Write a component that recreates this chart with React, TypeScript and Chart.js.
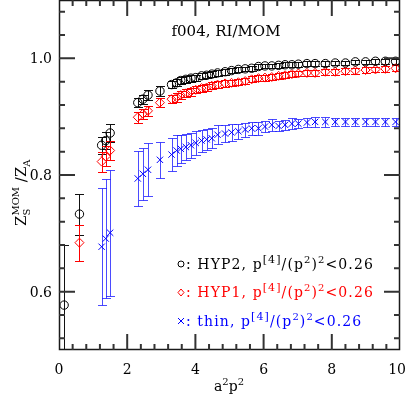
import React, { useEffect, useRef } from 'react';
import { Chart, registerables } from 'chart.js';

Chart.register(...registerables);

// ---- data ----
const xValues = [0.15, 0.6, 1.25, 1.37, 1.5, 2.31, 2.46, 2.61, 2.96, 3.30, 3.45, 3.57, 3.72, 3.87, 4.01, 4.18, 4.33, 4.48, 4.65, 4.87, 5.06, 5.26, 5.46, 5.65, 5.85, 6.04, 6.24, 6.44, 6.63, 6.83, 7.02, 7.27, 7.51, 7.81, 8.10, 8.40, 8.69, 8.99, 9.28, 9.57, 9.87];

const hyp2Values = [0.577, 0.733, 0.851, 0.859, 0.872, 0.924, 0.930, 0.937, 0.944, 0.955, 0.958, 0.962, 0.964, 0.966, 0.967, 0.970, 0.971, 0.973, 0.975, 0.977, 0.979, 0.981, 0.982, 0.983, 0.986, 0.987, 0.987, 0.988, 0.989, 0.989, 0.990, 0.991, 0.991, 0.991, 0.992, 0.992, 0.994, 0.994, 0.995, 0.995, 0.995];
const hyp2Errors = [0.103, 0.035, 0.015, 0.015, 0.015, 0.008, 0.008, 0.008, 0.008, 0.006, 0.006, 0.006, 0.006, 0.006, 0.005, 0.005, 0.005, 0.005, 0.005, 0.005, 0.004, 0.004, 0.004, 0.004, 0.004, 0.004, 0.004, 0.004, 0.004, 0.004, 0.004, 0.004, 0.004, 0.004, 0.004, 0.004, 0.004, 0.004, 0.004, 0.004, 0.004];

const hyp1Values = [null, 0.684, 0.823, 0.832, 0.842, 0.899, 0.905, 0.910, 0.924, 0.930, 0.933, 0.937, 0.940, 0.943, 0.946, 0.949, 0.950, 0.953, 0.955, 0.957, 0.958, 0.959, 0.961, 0.964, 0.966, 0.967, 0.968, 0.970, 0.971, 0.973, 0.974, 0.975, 0.975, 0.977, 0.977, 0.978, 0.979, 0.980, 0.981, 0.982, 0.983];
const hyp1Errors = [null, 0.031, 0.017, 0.017, 0.017, 0.009, 0.009, 0.009, 0.008, 0.007, 0.007, 0.007, 0.007, 0.007, 0.006, 0.006, 0.006, 0.006, 0.006, 0.006, 0.005, 0.005, 0.005, 0.005, 0.005, 0.005, 0.005, 0.005, 0.005, 0.005, 0.005, 0.005, 0.005, 0.005, 0.005, 0.005, 0.005, 0.005, 0.005, 0.005, 0.005];

const thinValues = [null, null, 0.677, 0.691, 0.701, 0.794, 0.802, 0.809, 0.826, 0.835, 0.842, 0.845, 0.848, 0.851, 0.855, 0.859, 0.861, 0.863, 0.869, 0.871, 0.873, 0.875, 0.878, 0.880, 0.880, 0.883, 0.886, 0.884, 0.886, 0.888, 0.888, 0.890, 0.891, 0.891, 0.891, 0.891, 0.891, 0.891, 0.891, 0.891, 0.891];
const thinErrors = [null, null, 0.100, 0.102, 0.108, 0.047, 0.045, 0.045, 0.031, 0.028, 0.026, 0.024, 0.022, 0.021, 0.020, 0.019, 0.018, 0.017, 0.016, 0.015, 0.014, 0.013, 0.012, 0.011, 0.011, 0.010, 0.010, 0.009, 0.009, 0.009, 0.008, 0.008, 0.008, 0.008, 0.007, 0.007, 0.007, 0.007, 0.007, 0.007, 0.007];

const X_MIN = 0;
const X_MAX = 10;
const Y_MIN = 0.5;
const Y_MAX = 1.1;
const xTickValues = [0, 2, 4, 6, 8, 10];
const xTickLabels = ['0', '2', '4', '6', '8', '10'];
const xMajorInner = [2, 4, 6, 8];
const yTickValues = [0.6, 0.8, 1.0];
const yTickLabels = ['0.6', '0.8', '1.0'];
const xMinorTicks = [0.4, 0.8, 1.2, 1.6, 2.4, 2.8, 3.2, 3.6, 4.4, 4.8, 5.2, 5.6, 6.4, 6.8, 7.2, 7.6, 8.4, 8.8, 9.2, 9.6];
const yMinorTicks = [0.52, 0.56, 0.64, 0.68, 0.72, 0.76, 0.84, 0.88, 0.92, 0.96, 1.04, 1.08];

const titleText = 'f004, RI/MOM';
const legendLabels = ['HYP2', 'HYP1', 'thin'];
const legendCut = '0.26';

const FONT = '"DejaVu Serif", "Liberation Serif", serif';

const series = [
  { label: legendLabels[0], values: hyp2Values, errors: hyp2Errors, color: '#000000', barColor: '#111111', style: 'circle', radius: 4.2 },
  { label: legendLabels[1], values: hyp1Values, errors: hyp1Errors, color: '#ff0000', barColor: '#ff0000', style: 'rectRot', radius: 4.5 },
  { label: legendLabels[2], values: thinValues, errors: thinErrors, color: '#0000ff', barColor: 'rgba(30,30,255,0.8)', style: 'crossRot', radius: 4.5 },
];

type Part = { t: string; size: number; dy: number; stack?: boolean };

function drawRich(ctx: CanvasRenderingContext2D, x: number, y: number, parts: Part[]) {
  let cx = x;
  let stackW = 0;
  let stackX = 0;
  for (const p of parts) {
    ctx.font = `${p.size}px ${FONT}`;
    const w = ctx.measureText(p.t).width;
    if (p.stack) {
      if (stackW === 0) stackX = cx;
      ctx.fillText(p.t, stackX, y + p.dy);
      stackW = Math.max(stackW, w);
      cx = stackX + stackW;
    } else {
      stackW = 0;
      ctx.fillText(p.t, cx, y + p.dy);
      cx += w;
    }
  }
  return cx - x;
}

function measureRich(ctx: CanvasRenderingContext2D, parts: Part[]) {
  let w = 0;
  for (const p of parts) {
    ctx.font = `${p.size}px ${FONT}`;
    w += ctx.measureText(p.t).width;
  }
  return w;
}

const errorBarPlugin = {
  id: 'errorBars',
  beforeDatasetsDraw(chart: any) {
    const { ctx, chartArea } = chart;
    const xs = chart.scales.x;
    const ys = chart.scales.y;
    ctx.save();
    ctx.beginPath();
    ctx.rect(chartArea.left, chartArea.top, chartArea.right - chartArea.left, chartArea.bottom - chartArea.top);
    ctx.clip();
    ctx.lineWidth = 1;
    series.forEach((s) => {
      ctx.strokeStyle = s.barColor;
      xValues.forEach((xv, i) => {
        const v = s.values[i];
        const e = s.errors[i];
        if (v == null || e == null) return;
        const px = Math.round(xs.getPixelForValue(xv)) + 0.5;
        const top = Math.round(ys.getPixelForValue(v + e)) + 0.5;
        const bot = Math.round(ys.getPixelForValue(v - e)) + 0.5;
        ctx.beginPath();
        ctx.moveTo(px, top);
        ctx.lineTo(px, bot);
        ctx.moveTo(px - 4.5, top);
        ctx.lineTo(px + 4.5, top);
        ctx.moveTo(px - 4.5, bot);
        ctx.lineTo(px + 4.5, bot);
        ctx.stroke();
      });
    });
    ctx.restore();
  },
};

const tickPlugin = {
  id: 'innerTicks',
  afterDraw(chart: any) {
    const ctx: CanvasRenderingContext2D = chart.ctx;
    const area = chart.chartArea;
    const xs = chart.scales.x;
    const ys = chart.scales.y;
    ctx.save();
    ctx.strokeStyle = '#333333';
    ctx.lineWidth = 2;
    ctx.beginPath();
    xMinorTicks.forEach((v) => {
      const px = xs.getPixelForValue(v);
      ctx.moveTo(px, area.bottom);
      ctx.lineTo(px, area.bottom - 6);
      ctx.moveTo(px, area.top);
      ctx.lineTo(px, area.top + 6);
    });
    xMajorInner.forEach((v) => {
      const px = xs.getPixelForValue(v);
      ctx.moveTo(px, area.bottom);
      ctx.lineTo(px, area.bottom - 16);
      ctx.moveTo(px, area.top);
      ctx.lineTo(px, area.top + 16);
    });
    yMinorTicks.forEach((v) => {
      const py = ys.getPixelForValue(v);
      ctx.moveTo(area.left, py);
      ctx.lineTo(area.left + 6, py);
      ctx.moveTo(area.right, py);
      ctx.lineTo(area.right - 6, py);
    });
    yTickValues.forEach((v) => {
      const py = ys.getPixelForValue(v);
      ctx.moveTo(area.left, py);
      ctx.lineTo(area.left + 16, py);
      ctx.moveTo(area.right, py);
      ctx.lineTo(area.right - 16, py);
    });
    ctx.stroke();
    ctx.restore();
  },
};

const framePlugin = {
  id: 'frameAndText',
  afterDatasetsDraw(chart: any) {
    const ctx: CanvasRenderingContext2D = chart.ctx;
    const area = chart.chartArea;
    const xs = chart.scales.x;
    const ys = chart.scales.y;
    ctx.save();
    ctx.strokeStyle = '#1a1a1a';
    ctx.lineWidth = 1.5;
    ctx.beginPath();
    ctx.rect(area.left + 0.5, area.top + 0.5, area.right - area.left - 1, area.bottom - area.top - 1);
    ctx.stroke();

    ctx.fillStyle = '#000';
    ctx.textBaseline = 'alphabetic';

    // tick labels
    ctx.font = `14px ${FONT}`;
    ctx.textAlign = 'center';
    xTickValues.forEach((v, i) => {
      let px = xs.getPixelForValue(v);
      const w = ctx.measureText(xTickLabels[i]).width;
      if (px + w / 2 > chart.width - 1) px = chart.width - 1 - w / 2;
      ctx.fillText(xTickLabels[i], px, 374);
    });
    ctx.textAlign = 'right';
    yTickValues.forEach((v, i) => {
      ctx.fillText(yTickLabels[i], 52, Math.round(ys.getPixelForValue(v)) + 5);
    });
    ctx.textAlign = 'left';

    // title
    ctx.font = `15px ${FONT}`;
    const tw = ctx.measureText(titleText).width;
    ctx.fillText(titleText, 226 - tw / 2, 36);

    // x axis title a^2 p^2
    const xParts: Part[] = [
      { t: 'a', size: 14, dy: 0 },
      { t: '2', size: 10, dy: -6 },
      { t: 'p', size: 14, dy: 0 },
      { t: '2', size: 10, dy: -6 },
    ];
    const xw = measureRich(ctx, xParts);
    drawRich(ctx, 229 - xw / 2, 391, xParts);

    // y axis title Z_S^MOM / Z_A (rotated)
    ctx.save();
    ctx.translate(26, 226);
    ctx.rotate(-Math.PI / 2);
    drawRich(ctx, 0, 0, [
      { t: 'Z', size: 15, dy: 0 },
      { t: 'MOM', size: 10, dy: -7, stack: true },
      { t: 'S', size: 10, dy: 4, stack: true },
      { t: ' /', size: 15, dy: 0 },
      { t: 'Z', size: 15, dy: 0 },
      { t: 'A', size: 10, dy: 4 },
    ]);
    ctx.restore();

    // legend
    const baselines = [268.5, 297, 325.5];
    series.forEach((s, i) => {
      const by = baselines[i];
      const cy = by - 4.5;
      const cx = 181;
      ctx.strokeStyle = s.color;
      ctx.fillStyle = s.color;
      ctx.lineWidth = 1;
      ctx.beginPath();
      if (s.style === 'circle') {
        ctx.arc(cx, cy, 3, 0, Math.PI * 2);
      } else if (s.style === 'rectRot') {
        ctx.moveTo(cx, cy - 3.5);
        ctx.lineTo(cx + 3, cy);
        ctx.lineTo(cx, cy + 3.5);
        ctx.lineTo(cx - 3, cy);
        ctx.closePath();
      } else {
        ctx.moveTo(cx - 3, cy - 3);
        ctx.lineTo(cx + 3, cy + 3);
        ctx.moveTo(cx + 3, cy - 3);
        ctx.lineTo(cx - 3, cy + 3);
      }
      ctx.stroke();
      (ctx as any).letterSpacing = '1.1px';
      drawRich(ctx, 186, by, [
        { t: ': ' + s.label + ', p', size: 14, dy: 0 },
        { t: '[4]', size: 11, dy: -6 },
        { t: '/(p', size: 14, dy: 0 },
        { t: '2', size: 10, dy: -6 },
        { t: ')', size: 14, dy: 0 },
        { t: '2', size: 10, dy: -6 },
        { t: '<' + legendCut, size: 14, dy: 0 },
      ]);
      (ctx as any).letterSpacing = '0px';
    });
    ctx.restore();
  },
};

export default function App() {
  const ref = useRef<HTMLCanvasElement>(null);
  useEffect(() => {
    const canvas = ref.current;
    if (!canvas) return;
    const chart = new Chart(canvas, {
      type: 'scatter',
      data: {
        datasets: series.map((s) => ({
          label: s.label,
          data: xValues
            .map((x, i) => ({ x, y: s.values[i] as number | null }))
            .filter((p) => p.y != null) as { x: number; y: number }[],
          pointStyle: s.style as any,
          pointRadius: s.radius,
          pointBorderWidth: 1,
          pointBorderColor: s.color,
          pointBackgroundColor: 'rgba(0,0,0,0)',
          showLine: false,
        })),
      },
      options: {
        responsive: false,
        animation: false,
        devicePixelRatio: 1,
        events: [],
        layout: { autoPadding: false, padding: { left: 59, right: 7, top: 0, bottom: 48 } },
        plugins: {
          legend: { display: false },
          title: { display: false },
          tooltip: { enabled: false },
        },
        scales: {
          x: { type: 'linear', min: X_MIN, max: X_MAX, display: false },
          y: { type: 'linear', min: Y_MIN, max: Y_MAX, display: false },
        },
      },
      plugins: [errorBarPlugin, framePlugin, tickPlugin],
    });
    return () => chart.destroy();
  }, []);
  return (
    <div style={{ position: 'fixed', left: 0, top: 0, width: 407, height: 398, background: '#fff' }}>
      <canvas ref={ref} width={407} height={398} style={{ display: 'block', width: 407, height: 398 }} />
    </div>
  );
}
